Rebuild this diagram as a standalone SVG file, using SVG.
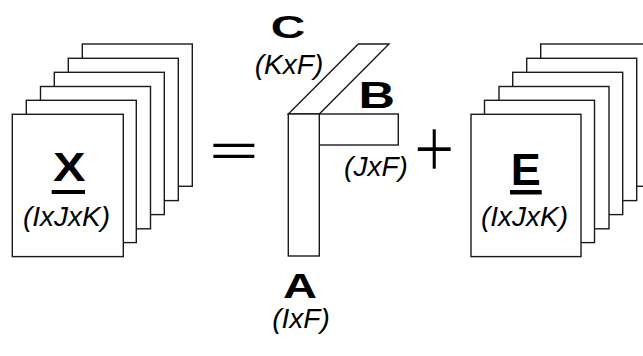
<svg xmlns="http://www.w3.org/2000/svg" width="643" height="356" viewBox="0 0 643 356">
<style>
.pg{fill:#fff;stroke:#1a1a1a;stroke-width:1.4}
.sh{fill:#fff;stroke:#1a1a1a;stroke-width:1.4;stroke-linejoin:miter}
.bd{font-family:"Liberation Sans",Arial,sans-serif;font-weight:bold;fill:#000;text-anchor:middle}
.it{font-family:"Liberation Sans",Arial,sans-serif;font-style:italic;font-size:28px;fill:#000;text-anchor:middle}
.op{font-family:"Liberation Sans",Arial,sans-serif;fill:#000;text-anchor:middle}
.ul{fill:#000}
</style>
<rect width="643" height="356" fill="#fff"/>
<g id="tensor-X">
<rect class="pg" x="82.3" y="44" width="110" height="142.3"/>
<rect class="pg" x="68.3" y="58.3" width="110" height="142.3"/>
<rect class="pg" x="54.3" y="72.3" width="110" height="142.3"/>
<rect class="pg" x="40.5" y="86.5" width="110" height="142.3"/>
<rect class="pg" x="26.3" y="100.3" width="110" height="142.3"/>
<rect class="pg" x="12.3" y="114.3" width="111" height="142.3"/>
<text class="bd" x="69.2" y="180.7" font-size="40.5" textLength="32.5" lengthAdjust="spacingAndGlyphs">X</text>
<rect class="ul" x="51.7" y="190" width="33.3" height="4"/>
<text class="it" x="66.5" y="225.5">(IxJxK)</text>
</g>
<g id="equals">
<text class="op" transform="translate(234,165) scale(1.875,1)" font-size="45">=</text>
</g>
<g id="factors">
<g id="factor-C">
<polygon class="sh" points="288.3,114 319.3,114 389,44 358.3,44"/>
<text class="bd" x="288" y="38" font-size="31" textLength="34.5" lengthAdjust="spacingAndGlyphs">C</text>
<text class="it" x="289" y="74">(KxF)</text>
</g>
<g id="factor-B">
<rect class="sh" x="319.3" y="114" width="79" height="31"/>
<text class="bd" x="376.7" y="108.3" font-size="37" textLength="36.5" lengthAdjust="spacingAndGlyphs">B</text>
<text class="it" x="376" y="175.5">(JxF)</text>
</g>
<g id="factor-A">
<rect class="sh" x="288.3" y="114" width="31" height="142"/>
<text class="bd" x="300" y="298.3" font-size="35" textLength="34" lengthAdjust="spacingAndGlyphs">A</text>
<text class="it" x="301" y="327.5">(IxF)</text>
</g>
</g>
<g id="plus">
<text class="op" transform="translate(434.2,178.3) scale(1,1.18)" font-size="72" stroke="#fff" stroke-width="2">+</text>
</g>
<g id="tensor-E">
<rect class="pg" x="540.7" y="44" width="110" height="142.3"/>
<rect class="pg" x="526.7" y="58.3" width="110" height="142.3"/>
<rect class="pg" x="512.7" y="72.3" width="110" height="142.3"/>
<rect class="pg" x="499" y="86.5" width="110" height="142.3"/>
<rect class="pg" x="484.5" y="100.3" width="110" height="142.3"/>
<rect class="pg" x="471" y="114.3" width="110" height="142.3"/>
<text class="bd" x="525.8" y="185" font-size="45">E</text>
<rect class="ul" x="510" y="190" width="31.7" height="4.5"/>
<text class="it" x="524.5" y="225.5">(IxJxK)</text>
</g>
<g id="connectors"></g>
</svg>
